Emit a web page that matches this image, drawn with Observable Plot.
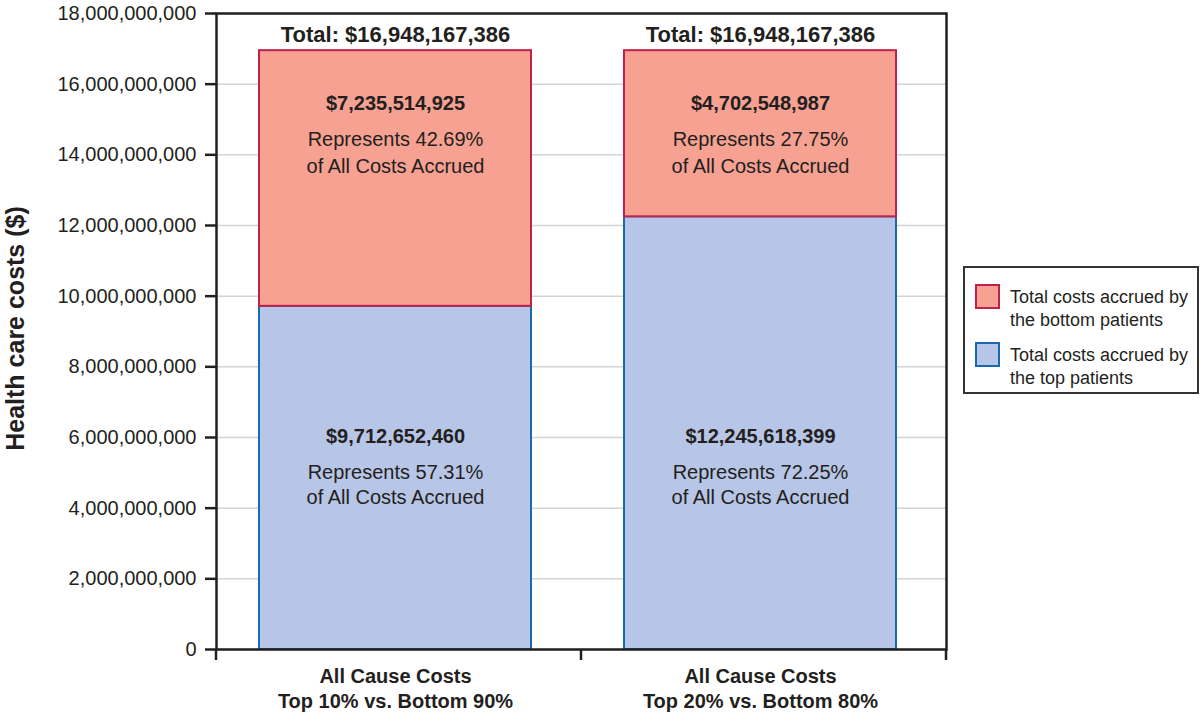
<!DOCTYPE html>
<html>
<head>
<meta charset="utf-8">
<script src="https://cdn.jsdelivr.net/npm/d3@7"></script>
<script src="https://cdn.jsdelivr.net/npm/@observablehq/plot@0.6"></script>
<style>
  html, body { margin: 0; padding: 0; background: #fff; }
  #wrap { position: relative; width: 1200px; height: 720px; font-family: "Liberation Sans", Arial, sans-serif; color: #231f20; }
  #legend { position: absolute; left: 963px; top: 266px; width: 232px; height: 124px; border: 2px solid #333; background: #fff; box-sizing: content-box; }
  .item { position: absolute; left: 10px; font-size: 18px; line-height: 23px; }
  .sw { position: absolute; left: 0; width: 25px; height: 25px; box-sizing: border-box; border: 2px solid; }
  .lt { position: absolute; left: 35px; white-space: nowrap; }
</style>
</head>
<body>
<div id="wrap">
  <div id="chart"></div>
  <div id="legend"></div>
</div>
<script>
// ---- data ----
const categories = ["All Cause Costs\nTop 10% vs. Bottom 90%", "All Cause Costs\nTop 20% vs. Bottom 80%"];
const topCosts = [9712652460, 12245618399];
const bottomCosts = [7235514925, 4702548987];
const topShare = ["57.31%", "72.25%"];
const bottomShare = ["42.69%", "27.75%"];
const totals = [16948167386, 16948167386];
const yTicks = [0, 2e9, 4e9, 6e9, 8e9, 10e9, 12e9, 14e9, 16e9, 18e9];
const legendLabels = ["Total costs accrued by\nthe bottom patients", "Total costs accrued by\nthe top patients"];

const pinkFill = "#f6a191", pinkStroke = "#c0204a";
const blueFill = "#b7c5e6", blueStroke = "#1a68b0";
const ink = "#231f20";

const rows = categories.map((c, i) => ({
  cat: c, top: topCosts[i], bottom: bottomCosts[i], total: totals[i],
  topShare: topShare[i], bottomShare: bottomShare[i]
}));
const fmt = d3.format(",");
const shift = -4;

function boundaryTicks(index, scales, values, dims) {
  const g = d3.create("svg:g").attr("stroke", ink).attr("stroke-width", 2.5);
  const n = categories.length;
  const x0 = dims.marginLeft, x1 = dims.width - dims.marginRight;
  const yb = dims.height - dims.marginBottom;
  for (let k = 0; k <= n; k++) {
    const x = x0 + k * (x1 - x0) / n;
    g.append("line").attr("x1", x).attr("x2", x).attr("y1", yb).attr("y2", yb + 11);
  }
  return g.node();
}

const chart = Plot.plot({
  width: 1200,
  height: 720,
  marginLeft: 216,
  marginRight: 254,
  marginTop: 13,
  marginBottom: 71,
  style: { fontFamily: "'Liberation Sans', Arial, sans-serif", color: ink, background: "#fff" },
  x: { domain: categories, paddingInner: 0.255, paddingOuter: 0.1275 },
  y: { domain: [0, 18e9] },
  marks: [
    Plot.gridY(yTicks, { stroke: "#d4d4d4", strokeOpacity: 1, strokeWidth: 1.5 }),
    Plot.barY(rows, { x: "cat", y1: 0, y2: "top", fill: blueFill, stroke: blueStroke, strokeWidth: 2, dx: shift }),
    Plot.barY(rows, { x: "cat", y1: "top", y2: "total", fill: pinkFill, stroke: pinkStroke, strokeWidth: 2, dx: shift }),
    Plot.frame({ stroke: ink, strokeWidth: 2.5 }),
    Plot.axisY(yTicks, { tickFormat: fmt, tickSize: 11, tickPadding: 9, fontSize: 20, strokeWidth: 2.5, stroke: ink, fill: ink, label: null }),
    Plot.axisX({ tickSize: 0, tickPadding: 16, fontSize: 20, fontWeight: "bold", fill: ink, label: null, lineHeight: 1.25, dx: shift }),
    boundaryTicks,
    Plot.text(["Health care costs ($)"], { frameAnchor: "left", textAnchor: "middle", rotate: -90, dx: -201, dy: -3, fontSize: 25, fontWeight: "bold", fill: ink }),
    // totals
    Plot.text(rows, { x: "cat", y: "total", text: d => "Total: $" + fmt(d.total), dy: -16, fontSize: 22, fontWeight: "bold", fill: ink, dx: shift }),
    // top segment labels
    Plot.text(rows, { x: "cat", frameAnchor: "top", lineAnchor: "middle", text: d => "$" + fmt(d.bottom), dy: 90, fontSize: 20, fontWeight: "bold", fill: ink, dx: shift }),
    Plot.text(rows, { x: "cat", frameAnchor: "top", lineAnchor: "middle", text: d => "Represents " + d.bottomShare + "\nof All Costs Accrued", dy: 137.5, lineHeight: 1.35, fontSize: 20, fill: ink, dx: shift }),
    // bottom segment labels
    Plot.text(rows, { x: "cat", frameAnchor: "bottom", lineAnchor: "middle", text: d => "$" + fmt(d.top), dy: -213, fontSize: 20, fontWeight: "bold", fill: ink, dx: shift }),
    Plot.text(rows, { x: "cat", frameAnchor: "bottom", lineAnchor: "middle", text: d => "Represents " + d.topShare + "\nof All Costs Accrued", dy: -166, lineHeight: 1.28, fontSize: 20, fill: ink, dx: shift })
  ]
});
document.getElementById("chart").appendChild(chart);

// legend
const legend = document.getElementById("legend");
const legendColors = [[pinkFill, pinkStroke], [blueFill, blueStroke]];
legendLabels.forEach((lab, i) => {
  const it = document.createElement("div");
  it.className = "item";
  it.style.top = (16 + i * 58) + "px";
  const sw = document.createElement("div");
  sw.className = "sw";
  sw.style.top = "0px";
  sw.style.background = legendColors[i][0];
  sw.style.borderColor = legendColors[i][1];
  const t = document.createElement("div");
  t.className = "lt";
  t.style.top = "2px";
  t.innerHTML = lab.split("\n").join("<br>");
  it.appendChild(sw); it.appendChild(t);
  legend.appendChild(it);
});
</script>
</body>
</html>
